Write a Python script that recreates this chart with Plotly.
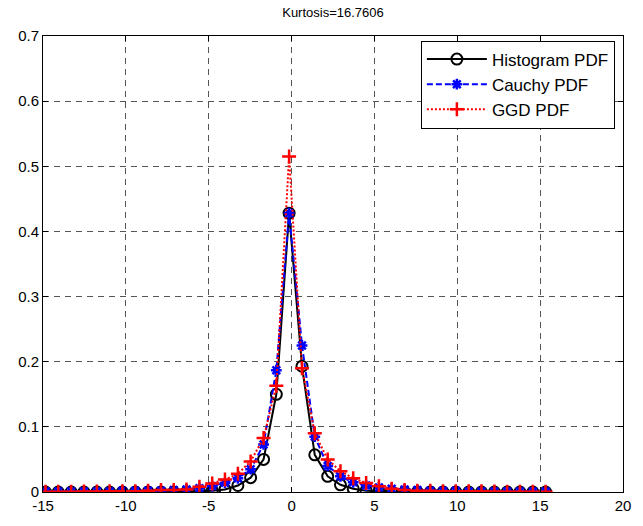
import plotly.graph_objects as go

# Bin centres (x)
x_vals = [-14.85, -14.08, -13.30, -12.53, -11.75, -10.98, -10.21, -9.43, -8.66, -7.88,
          -7.11, -6.34, -5.56, -4.79, -4.02, -3.24, -2.47, -1.69, -0.92, -0.15,
          0.63, 1.40, 2.18, 2.95, 3.72, 4.50, 5.27, 6.04, 6.82, 7.59,
          8.37, 9.14, 9.91, 10.69, 11.46, 12.24, 13.01, 13.78, 14.56, 15.33]

hist_pdf = [0, 0, 0, 0, 0, 0, 0, 0, 0, 0,
            0, 0, 0.001, 0.002, 0.004, 0.010, 0.022, 0.050, 0.150, 0.428,
            0.193, 0.057, 0.024, 0.011, 0.005, 0.002, 0.001, 0, 0, 0,
            0, 0, 0, 0, 0, 0, 0, 0, 0, 0]

cauchy_pdf = [0.001, 0.001, 0.001, 0.001, 0.001, 0.001, 0.002, 0.002, 0.002, 0.002,
              0.003, 0.004, 0.006, 0.009, 0.014, 0.021, 0.035, 0.073, 0.187, 0.428,
              0.225, 0.085, 0.040, 0.024, 0.015, 0.010, 0.007, 0.005, 0.004, 0.003,
              0.002, 0.002, 0.002, 0.001, 0.001, 0.001, 0.001, 0.001, 0.001, 0.001]

ggd_pdf = [0.0005, 0.0005, 0.0005, 0.0007, 0.0008, 0.001, 0.001, 0.001, 0.002, 0.003,
           0.003, 0.004, 0.008, 0.013, 0.019, 0.028, 0.047, 0.083, 0.163, 0.515,
           0.190, 0.090, 0.050, 0.032, 0.021, 0.014, 0.009, 0.005, 0.003, 0.002,
           0.002, 0.001, 0.001, 0.001, 0.001, 0.0007, 0.0005, 0.0005, 0.0005, 0.0005]

x_ticks = [-15, -10, -5, 0, 5, 10, 15, 20]
x_tick_text = ["-15", "-10", "-5", "0", "5", "10", "15", "20"]
y_ticks = [0, 0.1, 0.2, 0.3, 0.4, 0.5, 0.6, 0.7]
y_tick_text = ["0", "0.1", "0.2", "0.3", "0.4", "0.5", "0.6", "0.7"]

FONT = "Liberation Sans, Arial, sans-serif"

fig = go.Figure()
fig.add_trace(go.Scatter(
    x=x_vals, y=hist_pdf, name="Histogram PDF", mode="lines+markers",
    line=dict(color="black", width=2),
    marker=dict(symbol="circle-open", size=11, color="black", line=dict(width=2, color="black")),
))
fig.add_trace(go.Scatter(
    x=x_vals, y=cauchy_pdf, name="Cauchy PDF", mode="lines+markers",
    line=dict(color="#0000ff", width=2, dash="6px,3px"),
    marker=dict(symbol="asterisk-open", size=9, color="#0000ff", line=dict(width=2.5, color="#0000ff")),
))
fig.add_trace(go.Scatter(
    x=x_vals, y=ggd_pdf, name="GGD PDF", mode="lines+markers",
    line=dict(color="#ff0000", width=2, dash="2px,2px"),
    marker=dict(symbol="cross-thin-open", size=10, color="#ff0000", line=dict(width=2.5, color="#ff0000")),
))

axis_common = dict(
    showline=True, linecolor="black", linewidth=1, mirror="ticks",
    ticks="inside", ticklen=5, tickcolor="black",
    showgrid=True, gridcolor="#555555", gridwidth=1, griddash="6px,5px",
    zeroline=False, tickfont=dict(family=FONT, size=15, color="black"),
)

fig.update_xaxes(range=[-15, 20], tickvals=x_ticks, ticktext=x_tick_text, **axis_common)
fig.update_yaxes(range=[0, 0.7], tickvals=y_ticks, ticktext=y_tick_text, **axis_common)

fig.update_layout(
    width=643, height=526,
    margin=dict(l=43, r=13, t=36, b=30),
    paper_bgcolor="white", plot_bgcolor="white",
    font=dict(family=FONT, size=15, color="black"),
    title=dict(text="Kurtosis=16.7606", x=0.5, xref="paper", xanchor="center",
               y=1 - 12 / 526, yref="container", yanchor="middle",
               font=dict(family=FONT, size=13, color="black")),
    showlegend=True,
    legend=dict(x=0.986, y=0.99, xanchor="right", yanchor="top",
                bgcolor="white", bordercolor="black", borderwidth=1,
                font=dict(family=FONT, size=17, color="black"),
                tracegroupgap=0, itemwidth=60),
)

fig.write_html("out.html")
